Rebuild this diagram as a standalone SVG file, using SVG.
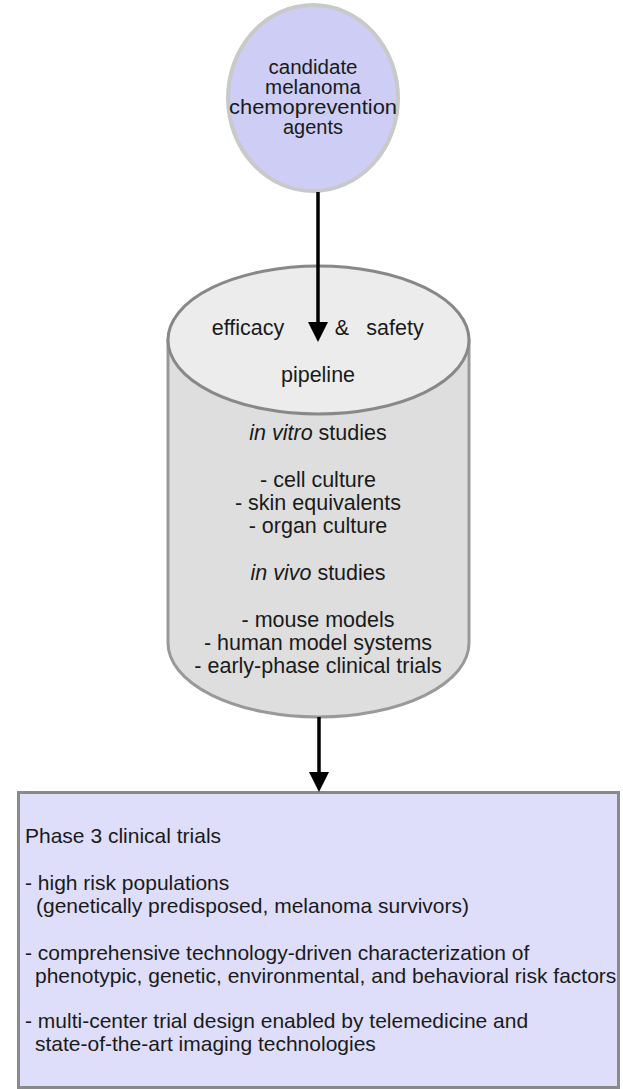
<svg xmlns="http://www.w3.org/2000/svg" width="623" height="1089" viewBox="0 0 623 1089">
<style>
  text { font-family: "Liberation Sans", Arial, Helvetica, sans-serif; fill: #1a1a1a; }
  .c { text-anchor: middle; font-size: 19.5px; }
  .cy { text-anchor: middle; font-size: 21.5px; }
  .bx { font-size: 21px; }
  .it { font-style: italic; }
  .conn { stroke: #000; stroke-width: 3.5; fill: none; }
</style>
<defs>
  <marker id="ah" markerUnits="userSpaceOnUse" markerWidth="22" markerHeight="20" refX="0" refY="10" orient="auto" viewBox="0 0 20 20">
    <path d="M0,0 L20,10 L0,20 Z" fill="#000"/>
  </marker>
</defs>
<rect width="623" height="1089" fill="#fff"/>

<g id="agents">
  <ellipse cx="313" cy="98" rx="85" ry="93" fill="#cdcdf6" stroke="#c9c9c9" stroke-width="4"/>
  <text class="c" x="313" y="74" textLength="89" lengthAdjust="spacingAndGlyphs">candidate</text>
  <text class="c" x="313" y="94" textLength="96" lengthAdjust="spacingAndGlyphs">melanoma</text>
  <text class="c" x="313" y="114" textLength="168" lengthAdjust="spacingAndGlyphs">chemoprevention</text>
  <text class="c" x="313" y="134" textLength="60" lengthAdjust="spacingAndGlyphs">agents</text>
</g>

<g id="pipeline">
  <path d="M168,340 L168,643 A150.5,74 0 0 0 469,643 L469,340 Z" fill="#dedede" stroke="#999" stroke-width="3"/>
  <ellipse cx="318.5" cy="340" rx="150.5" ry="74" fill="#ececec" stroke="#888" stroke-width="3"/>
  <text class="cy" x="248" y="335">efficacy</text>
  <text class="cy" x="342" y="335">&amp;</text>
  <text class="cy" x="395" y="335">safety</text>
  <text class="cy" x="318" y="382">pipeline</text>
  <text class="cy" x="318" y="440"><tspan class="it">in vitro</tspan> studies</text>
  <text class="cy" x="318" y="487">- cell culture</text>
  <text class="cy" x="318" y="510">- skin equivalents</text>
  <text class="cy" x="318" y="533">- organ culture</text>
  <text class="cy" x="318" y="580"><tspan class="it">in vivo</tspan> studies</text>
  <text class="cy" x="318" y="627">- mouse models</text>
  <text class="cy" x="318" y="650">- human model systems</text>
  <text class="cy" x="318" y="673">- early-phase clinical trials</text>
</g>

<g id="phase3">
  <rect x="18.5" y="792.5" width="600" height="295" fill="#dedefb" stroke="#8a8a8a" stroke-width="3"/>
  <text class="bx" x="25" y="843">Phase 3 clinical trials</text>
  <text class="bx" x="25" y="890">- high risk populations</text>
  <text class="bx" x="36" y="913">(genetically predisposed, melanoma survivors)</text>
  <text class="bx" x="25" y="960">- comprehensive technology-driven characterization of</text>
  <text class="bx" x="35" y="983">phenotypic, genetic, environmental, and behavioral risk factors</text>
  <text class="bx" x="25" y="1028">- multi-center trial design enabled by telemedicine and</text>
  <text class="bx" x="35" y="1051">state-of-the-art imaging technologies</text>
</g>

<g id="connectors">
  <line class="conn" x1="318" y1="192" x2="318" y2="322" marker-end="url(#ah)"/>
  <line class="conn" x1="319" y1="717" x2="319" y2="772" marker-end="url(#ah)"/>
</g>
</svg>
